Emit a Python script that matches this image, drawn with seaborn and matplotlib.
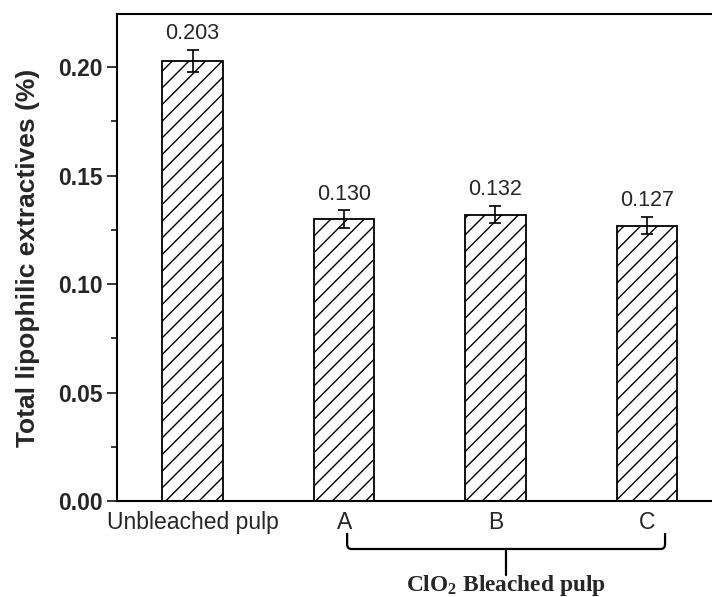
import matplotlib
matplotlib.use('Agg')
import matplotlib.pyplot as plt
import matplotlib.transforms as mtransforms
from matplotlib.path import Path
from matplotlib.patches import PathPatch
from matplotlib.ticker import MultipleLocator, FormatStrFormatter
import seaborn as sns
import pandas as pd

# dados
categorias = ['Unbleached pulp', 'A', 'B', 'C']
valores = [0.203, 0.130, 0.132, 0.127]
erros = [0.005, 0.004, 0.004, 0.004]
rotulos = ['0.203', '0.130', '0.132', '0.127']

sns.set_style('ticks')
plt.rcParams['font.family'] = ['Liberation Sans', 'DejaVu Sans']
plt.rcParams['hatch.linewidth'] = 1.0
plt.rcParams['mathtext.fontset'] = 'custom'
plt.rcParams['mathtext.rm'] = 'Liberation Serif'
plt.rcParams['mathtext.bf'] = 'Liberation Serif:bold'

df = pd.DataFrame({'amostra': categorias, 'valor': valores})

fig = plt.figure(figsize=(7.12, 5.97), dpi=100)
ax = fig.add_axes([0.1643, 0.1608, 0.8357, 0.8157])

# barras com hachura
sns.barplot(data=df, x='amostra', y='valor', color='white', edgecolor='black',
            linewidth=1.3, width=0.4, errorbar=None, ax=ax)
for p in ax.patches:
    p.set_hatch('//')
    p.set_facecolor('white')
    p.set_edgecolor('black')

x = range(len(categorias))
ax.errorbar(x, valores, yerr=erros, fmt='none', ecolor='black', elinewidth=1.2,
            capsize=4, capthick=1.2)

# rotulos de valor
for i in x:
    ax.annotate(rotulos[i], (i, valores[i] + erros[i]), xytext=(0, 4),
                textcoords='offset points', ha='center', va='bottom', fontsize=15.5)

ax.set_xlim(-0.5, 3.43)
ax.set_ylim(0, 0.2245)
ax.yaxis.set_major_locator(MultipleLocator(0.05))
ax.yaxis.set_minor_locator(MultipleLocator(0.025))
ax.yaxis.set_major_formatter(FormatStrFormatter('%.2f'))
ax.tick_params(axis='y', which='major', length=7, width=1.3, labelsize=16.5, direction='out')
ax.tick_params(axis='y', which='minor', length=4, width=1.3, direction='out')
ax.tick_params(axis='x', length=0, labelsize=16.5, pad=7)
for lbl in ax.get_yticklabels():
    lbl.set_fontweight('bold')

ax.set_xlabel('')
ax.set_ylabel('Total lipophilic extractives (%)', fontsize=19, fontweight='bold', labelpad=13)

for s in ['left', 'bottom', 'top']:
    ax.spines[s].set_linewidth(1.5)
    ax.spines[s].set_color('black')
ax.spines['right'].set_visible(False)

# chave sob A, B, C
trans = mtransforms.blended_transform_factory(ax.transData, fig.transFigure)
x0, x1, xm = 1.02, 3.12, 2.07
yt, yh, yb = 1 - 533 / 597, 1 - 549 / 597, 1 - 575 / 597
r = 0.03
verts = [(x0, yt), (x0, yh + 0.008), (x0, yh), (x0 + r, yh),
         (x1 - r, yh), (x1, yh), (x1, yh + 0.008), (x1, yt)]
codes = [Path.MOVETO, Path.LINETO, Path.CURVE3, Path.CURVE3,
         Path.LINETO, Path.CURVE3, Path.CURVE3, Path.LINETO]
ax.add_patch(PathPatch(Path(verts, codes), transform=trans, fill=False,
                       lw=1.6, edgecolor='black', clip_on=False))
ax.plot([xm, xm], [yh, yb], color='black', lw=1.6, transform=trans, clip_on=False)
ax.text(xm, 1 - 586 / 597, r'ClO$_\mathbf{2}$ Bleached pulp', transform=trans,
        ha='center', va='center', fontsize=16.8, fontweight='bold',
        family=['Liberation Serif', 'DejaVu Serif'])

plt.savefig('out.png', dpi=100)
